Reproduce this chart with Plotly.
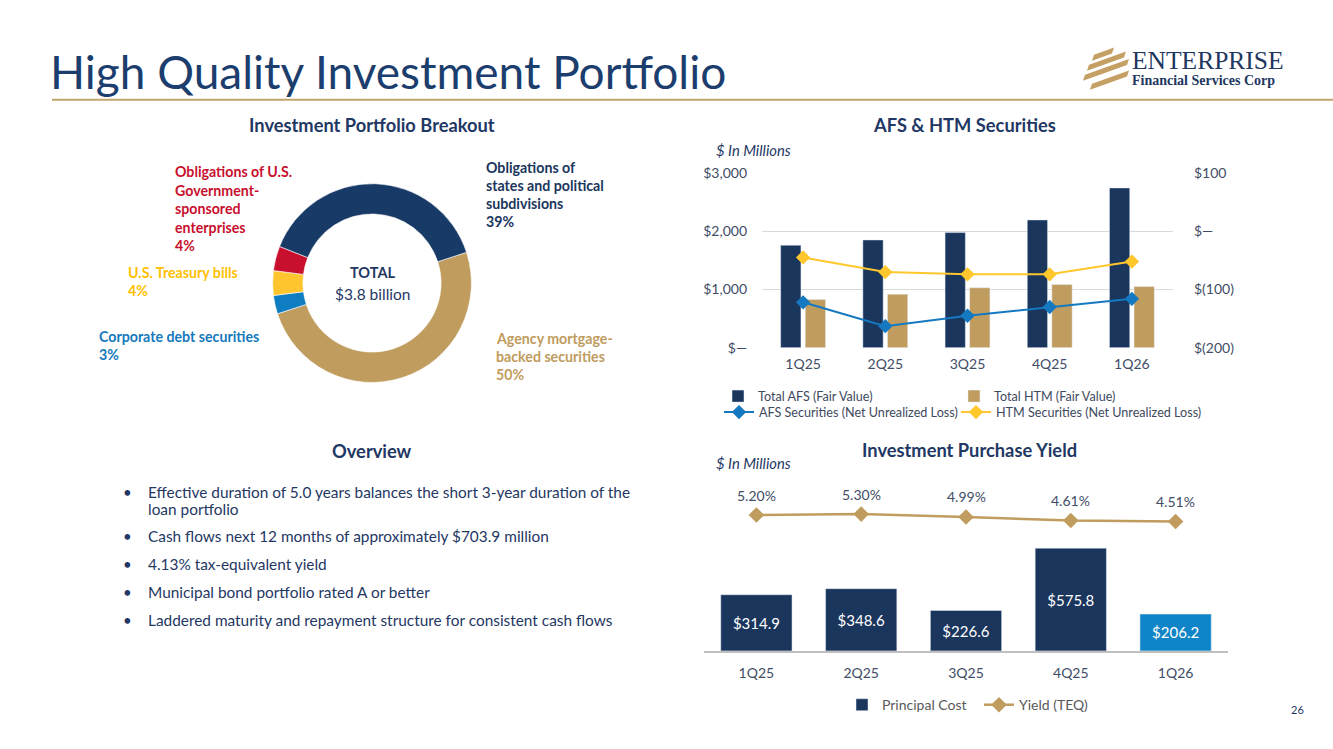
import plotly.graph_objects as go

W, H = 1333, 749

# ---------------- data ----------------
portfolio_labels = ["Agency mortgage-backed securities", "Corporate debt securities",
                    "U.S. Treasury bills",
                    "Obligations of U.S. Government-sponsored enterprises",
                    "Obligations of states and political subdivisions"]
portfolio_pct = [50, 3, 4, 4, 39]
portfolio_total = "$3.8 billion"

quarters = ["1Q25", "2Q25", "3Q25", "4Q25", "1Q26"]
afs_fair_value = [1760, 1851, 1977, 2194, 2743]
htm_fair_value = [829, 920, 1029, 1086, 1051]
afs_unrealized_loss = [-122, -163, -145, -130, -116]
htm_unrealized_loss = [-45, -70, -74, -74, -52]

afs_left_tickvals = [0, 1000, 2000, 3000]
afs_left_ticktext = ["$\u2014", "$1,000", "$2,000", "$3,000"]
afs_right_tickvals = [-200, -100, 0, 100]
afs_right_ticktext = ["$(200)", "$(100)", "$\u2014", "$100"]

principal_cost = [314.9, 348.6, 226.6, 575.8, 206.2]
yield_teq = [5.20, 5.30, 4.99, 4.61, 4.51]

overview_bullets = [
    ["Effective duration of 5.0 years balances the short 3-year duration of the",
     "loan portfolio"],
    ["Cash flows next 12 months of approximately $703.9 million"],
    ["4.13% tax-equivalent yield"],
    ["Municipal bond portfolio rated A or better"],
    ["Laddered maturity and repayment structure for consistent cash flows"],
]

# ---------------- styles ----------------
FONT = "Lato"
NAVY = "#1B365D"
GOLD = "#C09C5E"
BLUE = "#1479C0"
LBLUE = "#0F85C7"
YELLOW = "#FFC72C"
RED = "#C8102E"
TXT = "#1F3864"
TICK = "#3F4D66"
LEG = "#404A5E"

# the photographed page comes out slightly squeezed vertically; map target pixel
# rows to figure rows so things land where intended
SY, OY = 0.9783, 8.17


def px(x):
    return x / W


def py(y):
    return 1 - ((y - OY) / SY) / H


fig = go.Figure()

# ---------------- donut ----------------
fig.add_trace(go.Pie(
    labels=portfolio_labels, values=portfolio_pct, hole=0.695, sort=False,
    direction="clockwise", rotation=72, textinfo="none", showlegend=False,
    marker=dict(colors=[GOLD, "#0F7DC2", "#FFC52F", RED, "#183A66"],
                line=dict(color="white", width=0.6)),
    domain=dict(x=[px(272.5), px(471.5)], y=[py(382), py(183)]),
))

# ---------------- AFS & HTM chart ----------------
fig.add_trace(go.Bar(x=quarters, y=afs_fair_value, name="Total AFS (Fair Value)",
                     marker_color=NAVY, width=0.247, offset=-0.273,
                     xaxis="x", yaxis="y", legend="legend"))
fig.add_trace(go.Bar(x=quarters, y=htm_fair_value, name="Total HTM (Fair Value)",
                     marker_color=GOLD, width=0.247, offset=0.026,
                     xaxis="x", yaxis="y", legend="legend2"))
fig.add_trace(go.Scatter(x=quarters, y=afs_unrealized_loss,
                         name="AFS Securities (Net Unrealized Loss)",
                         mode="lines+markers", line=dict(color=BLUE, width=2),
                         marker=dict(symbol="diamond", size=11, color=BLUE),
                         xaxis="x", yaxis="y2", legend="legend3"))
fig.add_trace(go.Scatter(x=quarters, y=htm_unrealized_loss,
                         name="HTM Securities (Net Unrealized Loss)",
                         mode="lines+markers", line=dict(color=YELLOW, width=2),
                         marker=dict(symbol="diamond", size=11, color=YELLOW),
                         xaxis="x", yaxis="y2", legend="legend4"))

# ---------------- Investment Purchase Yield ----------------
fig.add_trace(go.Bar(x=quarters, y=principal_cost, name="Principal Cost",
                     marker_color=[NAVY, NAVY, NAVY, NAVY, LBLUE], width=0.68,
                     text=[f"${v:.1f}" for v in principal_cost],
                     textposition="inside", insidetextanchor="middle",
                     textfont=dict(color="white", size=15, family=FONT),
                     xaxis="x2", yaxis="y3", legend="legend5"))
fig.add_trace(go.Scatter(x=quarters, y=yield_teq, name="Yield (TEQ)",
                         mode="lines+markers", line=dict(color=GOLD, width=2.5),
                         marker=dict(symbol="diamond", size=12, color=GOLD),
                         xaxis="x2", yaxis="y4", legend="legend5"))

annotations = []
shapes = []

for q, v in zip(quarters, yield_teq):
    annotations.append(dict(x=q, y=v, xref="x2", yref="y4", text=f"{v:.2f}%",
                            showarrow=False, yshift=20,
                            font=dict(size=14, color=TICK, family=FONT)))


def text(x, y, s, size=13, color=TXT, anchor="left", bold=False, italic=False,
         family=FONT):
    if bold:
        s = f"<b>{s}</b>"
    if italic:
        s = f"<i>{s}</i>"
    annotations.append(dict(x=px(x), y=py(y), xref="paper", yref="paper", text=s,
                            showarrow=False, xanchor=anchor, yanchor="middle",
                            font=dict(size=size, color=color, family=family)))


# title + rule
text(48, 71, "High Quality Investment Portfolio", size=46, color="#1C3E6E")
shapes.append(dict(type="line", xref="paper", yref="paper", x0=px(52), x1=1,
                   y0=py(99), y1=py(99), line=dict(color="#C2A66E", width=2)))

# logo mark (slanted gold bands)
bands = [(1092, 60, 1112), (1087, 70, 1124), (1083, 80, 1127), (1090, 89, 1127)]
for xl, yl, xr in bands:
    rise = 0.36 * (xr - xl)
    shapes.append(dict(type="path", xref="paper", yref="paper",
                       path=(f"M {px(xl)},{py(yl)} L {px(xr)},{py(yl - rise)} "
                             f"L {px(xr + 2)},{py(yl - rise - 6)} L {px(xl + 2)},{py(yl - 6)} Z"),
                       fillcolor="#C5A064", line=dict(width=0)))
text(1130, 60, "ENTERPRISE", size=25.5, color="#22375F", family="Liberation Serif")
text(1130, 80, "Financial Services Corp", size=14, color="#22375F", bold=True,
     family="Liberation Serif")

# section titles
text(372, 124, "Investment Portfolio Breakout", size=18.3, anchor="center", bold=True)
text(964, 124, "AFS & HTM Securities", size=18.3, anchor="center", bold=True)
text(372, 451, "Overview", size=18.3, anchor="center", bold=True)
text(969, 450, "Investment Purchase Yield", size=18.3, anchor="center", bold=True)
text(714, 149, "$ In Millions", size=14.8, italic=True)
text(714, 463, "$ In Millions", size=14.8, italic=True)

# donut labels
label_specs = [
    (4, ["Obligations of", "states and political", "subdivisions"], 484, 167, 18, NAVY),
    (0, ["Agency mortgage-", "backed securities"], 494, 338, 18, GOLD),
    (3, ["Obligations of U.S.", "Government-", "sponsored", "enterprises"], 173, 171, 18.5, RED),
    (2, ["U.S. Treasury bills"], 126, 272, 18, "#FFC000"),
    (1, ["Corporate debt securities"], 97, 336, 18, "#1479BD"),
]
for idx, lines, x0, y0, dy, col in label_specs:
    for j, ln in enumerate(lines + [f"{portfolio_pct[idx]}%"]):
        text(x0, y0 + j * dy, ln, size=14.2, color=col, bold=True)

text(372, 272, "TOTAL", size=14.5, color=TXT, anchor="center", bold=True)
text(372, 293, portfolio_total, size=15.5, color=TXT, anchor="center")

# overview bullets
y = 492
for bullet in overview_bullets:
    text(121, y, "\u2022", size=15, color=TXT)
    for k, ln in enumerate(bullet):
        text(146, y + k * 17, ln, size=15.4, color=TXT)
    y += (len(bullet) - 1) * 17 + 28 - (1 if len(bullet) > 1 else 0)

# page number
text(1297, 709, "26", size=11, color=TXT, anchor="center")

axis_font = dict(size=14, color=TICK, family=FONT)


def one_legend(x_text, y_mid, size=12.6, color=LEG):
    return dict(orientation="h", x=px(x_text - 40), y=py(y_mid), xanchor="left",
                yanchor="middle", bgcolor="rgba(0,0,0,0)",
                font=dict(size=size, color=color, family=FONT))


fig.update_layout(
    width=W, height=H, margin=dict(l=0, r=0, t=0, b=0),
    paper_bgcolor="white", plot_bgcolor="rgba(0,0,0,0)",
    font=dict(family=FONT, color=TXT),
    barmode="overlay",
    xaxis=dict(domain=[px(762), px(1173)], anchor="y", type="category",
               range=[-0.5, 4.5], showgrid=False, zeroline=False, showline=False,
               ticks="", tickfont=axis_font, ticklabelstandoff=6),
    yaxis=dict(domain=[py(347.3), py(172.3)], anchor="x", range=[0, 3000],
               tickvals=afs_left_tickvals, ticktext=afs_left_ticktext,
               showgrid=True, gridcolor="#D9D9D9", gridwidth=1, zeroline=False,
               showline=False, tickfont=axis_font, ticklabelstandoff=14),
    yaxis2=dict(anchor="x", overlaying="y", side="right", range=[-200, 100],
                tickvals=afs_right_tickvals, ticktext=afs_right_ticktext,
                showgrid=False, zeroline=False, showline=False, tickfont=axis_font,
                ticklabelstandoff=20),
    xaxis2=dict(domain=[px(704), px(1228)], anchor="y3", type="category",
                range=[-0.5, 4.5], showgrid=False, zeroline=False, showline=True,
                linecolor="#BFBFBF", linewidth=2, ticks="", tickfont=axis_font,
                ticklabelstandoff=8),
    yaxis3=dict(domain=[py(650.7), py(490)], anchor="x2", range=[0, 900],
                visible=False),
    yaxis4=dict(anchor="x2", overlaying="y3", range=[-9.27, 7.83], visible=False),
    legend=one_legend(758, 396),
    legend2=one_legend(994, 396),
    legend3=one_legend(759, 412),
    legend4=one_legend(996, 412),
    legend5=dict(orientation="h", x=px(842), y=py(705), xanchor="left", yanchor="middle",
                 entrywidth=92, entrywidthmode="pixels", bgcolor="rgba(0,0,0,0)",
                 font=dict(size=14, color="#595959", family=FONT), traceorder="normal"),
    annotations=annotations,
    shapes=shapes,
)

fig.write_html("out.html")
